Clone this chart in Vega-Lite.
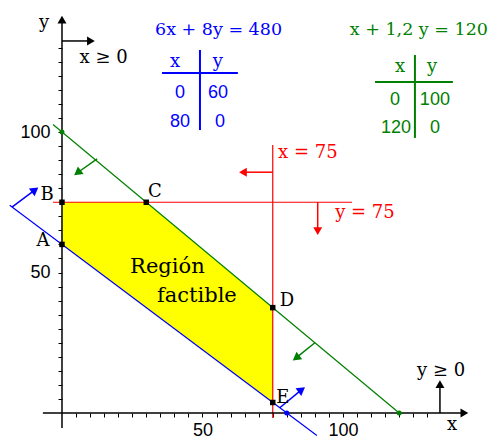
{
  "$schema": "https://vega.github.io/schema/vega-lite/v6.json",
  "width": 493,
  "height": 441,
  "padding": 0,
  "autosize": {"type": "none"},
  "background": "white",
  "config": {"view": {"stroke": null}},
  "datasets": {
    "region": [
      {"x": 0, "y": 75, "y2": 60},
      {"x": 30, "y": 75, "y2": 37.5},
      {"x": 75, "y": 37.5, "y2": 3.75}
    ],
    "rectas": [
      {"serie": "r1", "x": -18.6, "y": 73.95, "x2": 90.7, "y2": -8.03},
      {"serie": "r2", "x": -3.2, "y": 102.67, "x2": 120, "y2": 0},
      {"serie": "r3", "x": 75, "y": -1.8, "x2": 75, "y2": 95.4},
      {"serie": "r3", "x": -3.2, "y": 75, "x2": 103.2, "y2": 75}
    ],
    "tablas": [
      {"serie": "r1", "x": 49.1, "y": 100.7, "x2": 49.1, "y2": 129.2},
      {"serie": "r1", "x": 35.6, "y": 121.0, "x2": 62.6, "y2": 121.0},
      {"serie": "r2", "x": 125.6, "y": 97.9, "x2": 125.6, "y2": 127.4},
      {"serie": "r2", "x": 111.4, "y": 117.8, "x2": 139.1, "y2": 117.8}
    ],
    "flechas": [
      {"serie": "ejes", "dir": "der", "x": -6.8, "y": 0, "x2": 143.2, "y2": 0},
      {"serie": "ejes", "dir": "arriba", "x": 0, "y": -5.3, "x2": 0, "y2": 140},
      {"serie": "ejes", "dir": "der", "x": 0, "y": 132.4, "x2": 10.3, "y2": 132.4},
      {"serie": "ejes", "dir": "arriba", "x": 134.5, "y": 0, "x2": 134.5, "y2": 10.3},
      {"serie": "r3", "dir": "izq", "x": 75, "y": 85.7, "x2": 64.4, "y2": 85.7},
      {"serie": "r3", "dir": "abajo", "x": 91.0, "y": 75, "x2": 91.0, "y2": 64.7},
      {"serie": "r1", "dir": "diag", "x": -17.8, "y": 73.3, "x2": -9.6, "y2": 79.4},
      {"serie": "r1", "dir": "diag", "x": 77.5, "y": 1.875, "x2": 85.3, "y2": 8.3},
      {"serie": "r2", "dir": "diag", "x": 12.5, "y": 90.4, "x2": 5.5, "y2": 85.5},
      {"serie": "r2", "dir": "diag", "x": 90, "y": 25, "x2": 83.3, "y2": 19.6}
    ],
    "puntos": [
      {"tipo": "vertice", "serie": "ejes", "x": 0, "y": 60},
      {"tipo": "vertice", "serie": "ejes", "x": 0, "y": 75},
      {"tipo": "vertice", "serie": "ejes", "x": 30, "y": 75},
      {"tipo": "vertice", "serie": "ejes", "x": 75, "y": 37.5},
      {"tipo": "vertice", "serie": "ejes", "x": 75, "y": 3.75},
      {"tipo": "corte", "serie": "r2", "x": 0, "y": 100},
      {"tipo": "corte", "serie": "r2", "x": 120, "y": 0},
      {"tipo": "corte", "serie": "r1", "x": 80, "y": 0}
    ],
    "ecuaciones": [
      {"t": "6x + 8y = 480", "serie": "r1", "x": 55.7, "y": 134.5},
      {"t": "x + 1,2 y = 120", "serie": "r2", "x": 127.0, "y": 134.5}
    ],
    "encabezados": [
      {"t": "x", "serie": "r1", "x": 40.2, "y": 123.1},
      {"t": "y", "serie": "r1", "x": 55.5, "y": 123.1},
      {"t": "x", "serie": "r2", "x": 120.3, "y": 121.4},
      {"t": "y", "serie": "r2", "x": 131.7, "y": 121.4}
    ],
    "valores": [
      {"t": "0", "serie": "r1", "x": 42.0, "y": 112.1},
      {"t": "60", "serie": "r1", "x": 55.5, "y": 112.1},
      {"t": "80", "serie": "r1", "x": 42.0, "y": 101.8},
      {"t": "0", "serie": "r1", "x": 56.2, "y": 101.8},
      {"t": "0", "serie": "r2", "x": 118.5, "y": 109.6},
      {"t": "100", "serie": "r2", "x": 132.7, "y": 109.6},
      {"t": "120", "serie": "r2", "x": 118.9, "y": 99.6},
      {"t": "0", "serie": "r2", "x": 132.7, "y": 99.6}
    ],
    "rojos": [
      {"t": "x = 75", "serie": "r3", "x": 76.9, "y": 90.7},
      {"t": "y = 75", "serie": "r3", "x": 97.2, "y": 69.4}
    ],
    "etiquetas": [
      {"t": "A", "serie": "ejes", "x": -6.8, "y": 59.4},
      {"t": "B", "serie": "ejes", "x": -5.3, "y": 75.8},
      {"t": "C", "serie": "ejes", "x": 33.1, "y": 76.9},
      {"t": "D", "serie": "ejes", "x": 80.1, "y": 38.1},
      {"t": "E", "serie": "ejes", "x": 78.6, "y": 3.6},
      {"t": "y", "serie": "ejes", "x": -6.4, "y": 137.0},
      {"t": "x ≥ 0", "serie": "ejes", "x": 14.8, "y": 124.6},
      {"t": "y ≥ 0", "serie": "ejes", "x": 134.9, "y": 13.2},
      {"t": "x", "serie": "ejes", "x": 138.8, "y": -6.0}
    ],
    "region_txt": [
      {"t": "Región", "serie": "ejes", "x": 37.5, "y": 49.8},
      {"t": "factible", "serie": "ejes", "x": 48.0, "y": 39.5}
    ]
  },
  "encoding": {
    "x": {
      "field": "x", "type": "quantitative",
      "scale": {"domain": [-22.06, 153.38], "nice": false, "zero": false},
      "axis": {
        "orient": "bottom", "offset": -28, "domain": false, "grid": false, "title": null,
        "values": [5,10,15,20,25,30,35,40,45,50,55,60,65,70,75,80,85,90,95,100,105,110,115,120,125,130],
        "tickSize": 4, "tickColor": "black", "tickWidth": 1,
        "labelExpr": "datum.value == 50 || datum.value == 100 ? datum.label : ''",
        "labelFont": "Liberation Sans", "labelFontSize": 18, "labelColor": "black",
        "labelPadding": 4, "labelOverlap": false, "labelFlush": false, "labelBound": false
      }
    },
    "y": {
      "field": "y", "type": "quantitative",
      "scale": {"domain": [-9.96, 146.98], "nice": false, "zero": false},
      "axis": {
        "orient": "left", "offset": -62, "domain": false, "grid": false, "title": null,
        "values": [5,10,15,20,25,30,35,40,45,50,55,60,65,70,75,80,85,90,95,100,105,110,115,120,125,130],
        "tickSize": 4, "tickColor": "black", "tickWidth": 1,
        "labelExpr": "datum.value == 50 || datum.value == 100 ? datum.label : ''",
        "labelFont": "Liberation Sans", "labelFontSize": 18, "labelColor": "black",
        "labelPadding": 8, "labelOverlap": false, "labelFlush": false, "labelBound": false
      }
    }
  },
  "layer": [
    {
      "data": {"name": "region"},
      "mark": {"type": "area", "color": "#ffff00", "opacity": 1},
      "encoding": {"y2": {"field": "y2"}}
    },
    {
      "data": {"name": "rectas"},
      "mark": {"type": "rule", "strokeWidth": 1.2},
      "encoding": {
        "x2": {"field": "x2"}, "y2": {"field": "y2"},
        "color": {"field": "serie", "type": "nominal", "legend": null,
          "scale": {"domain": ["r1", "r2", "r3", "ejes"], "range": ["#0000ff", "#008000", "#ff0000", "#000000"]}}
      }
    },
    {
      "data": {"name": "tablas"},
      "mark": {"type": "rule", "strokeWidth": 2},
      "encoding": {
        "x2": {"field": "x2"}, "y2": {"field": "y2"},
        "color": {"field": "serie", "type": "nominal", "legend": null}
      }
    },
    {
      "data": {"name": "flechas"},
      "mark": {"type": "rule", "strokeWidth": 1.5},
      "encoding": {
        "x2": {"field": "x2"}, "y2": {"field": "y2"},
        "color": {"field": "serie", "type": "nominal", "legend": null}
      }
    },
    {
      "data": {"name": "flechas"},
      "transform": [{"filter": "datum.dir != 'diag'"}],
      "mark": {"type": "point", "filled": true, "opacity": 1, "size": 80, "strokeWidth": 0},
      "encoding": {
        "x": {"field": "x2", "type": "quantitative"},
        "y": {"field": "y2", "type": "quantitative"},
        "shape": {"field": "dir", "type": "nominal", "legend": null,
          "scale": {"domain": ["der", "arriba", "izq", "abajo"], "range": ["triangle-right", "triangle-up", "triangle-left", "triangle-down"]}},
        "color": {"field": "serie", "type": "nominal", "legend": null}
      }
    },
    {
      "data": {"name": "flechas"},
      "transform": [{"filter": "datum.dir == 'diag' && datum.serie == 'r1'"}],
      "mark": {"type": "point", "shape": "triangle-up", "angle": 53, "filled": true, "opacity": 1, "size": 90, "strokeWidth": 0},
      "encoding": {
        "x": {"field": "x2", "type": "quantitative"},
        "y": {"field": "y2", "type": "quantitative"},
        "color": {"field": "serie", "type": "nominal", "legend": null}
      }
    },
    {
      "data": {"name": "flechas"},
      "transform": [{"filter": "datum.dir == 'diag' && datum.serie == 'r2'"}],
      "mark": {"type": "point", "shape": "triangle-up", "angle": 233, "filled": true, "opacity": 1, "size": 90, "strokeWidth": 0},
      "encoding": {
        "x": {"field": "x2", "type": "quantitative"},
        "y": {"field": "y2", "type": "quantitative"},
        "color": {"field": "serie", "type": "nominal", "legend": null}
      }
    },
    {
      "data": {"name": "puntos"},
      "transform": [{"filter": "datum.tipo == 'vertice'"}],
      "mark": {"type": "point", "shape": "square", "filled": true, "opacity": 1, "size": 30, "strokeWidth": 0},
      "encoding": {"color": {"field": "serie", "type": "nominal", "legend": null}}
    },
    {
      "data": {"name": "puntos"},
      "transform": [{"filter": "datum.tipo == 'corte'"}],
      "mark": {"type": "point", "shape": "circle", "filled": true, "opacity": 1, "size": 25, "strokeWidth": 0},
      "encoding": {"color": {"field": "serie", "type": "nominal", "legend": null}}
    },
    {
      "data": {"name": "ecuaciones"},
      "mark": {"type": "text", "font": "DejaVu Serif", "fontSize": 17.5, "align": "center", "baseline": "alphabetic"},
      "encoding": {"text": {"field": "t"}, "color": {"field": "serie", "type": "nominal", "legend": null}}
    },
    {
      "data": {"name": "encabezados"},
      "mark": {"type": "text", "font": "DejaVu Serif", "fontSize": 18, "align": "center", "baseline": "alphabetic"},
      "encoding": {"text": {"field": "t"}, "color": {"field": "serie", "type": "nominal", "legend": null}}
    },
    {
      "data": {"name": "valores"},
      "mark": {"type": "text", "font": "Liberation Sans", "fontSize": 18, "align": "center", "baseline": "alphabetic"},
      "encoding": {"text": {"field": "t"}, "color": {"field": "serie", "type": "nominal", "legend": null}}
    },
    {
      "data": {"name": "rojos"},
      "mark": {"type": "text", "font": "DejaVu Serif", "fontSize": 18, "align": "left", "baseline": "alphabetic"},
      "encoding": {"text": {"field": "t"}, "color": {"field": "serie", "type": "nominal", "legend": null}}
    },
    {
      "data": {"name": "etiquetas"},
      "mark": {"type": "text", "font": "DejaVu Serif", "fontSize": 18, "align": "center", "baseline": "alphabetic"},
      "encoding": {"text": {"field": "t"}, "color": {"field": "serie", "type": "nominal", "legend": null}}
    },
    {
      "data": {"name": "region_txt"},
      "mark": {"type": "text", "font": "DejaVu Serif", "fontSize": 21, "align": "center", "baseline": "alphabetic"},
      "encoding": {"text": {"field": "t"}, "color": {"field": "serie", "type": "nominal", "legend": null}}
    }
  ]
}
